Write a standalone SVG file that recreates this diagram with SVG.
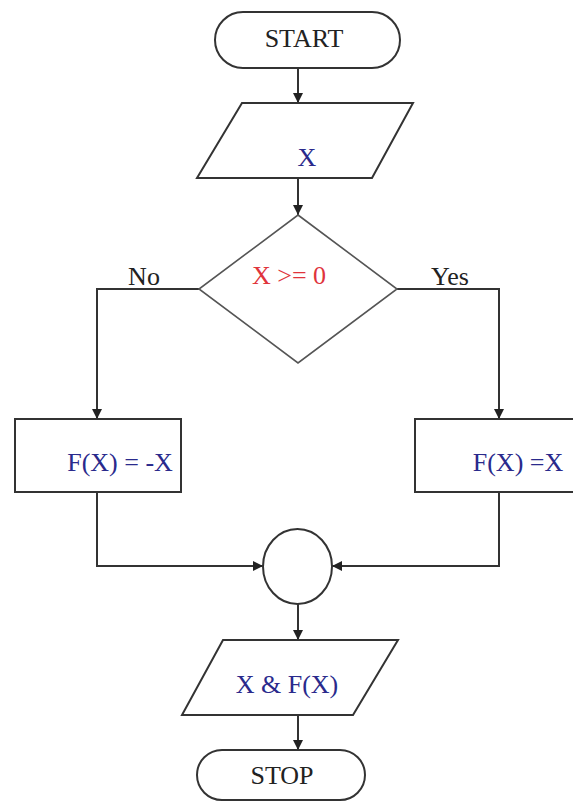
<svg xmlns="http://www.w3.org/2000/svg" width="573" height="803" viewBox="0 0 573 803">
<style>
.shape{fill:#fff;stroke:#333;stroke-width:2}
.dia{fill:#fff;stroke:#555;stroke-width:1.6}
.conn{fill:none;stroke:#333;stroke-width:2}
text{font-family:"Liberation Serif","Times New Roman",serif;font-size:26px;text-anchor:middle}
.k{fill:#222}
.b{fill:#2a2a8c}
.r{fill:#e0343c}
</style>
<defs>
<marker id="ah" markerUnits="userSpaceOnUse" markerWidth="10" markerHeight="10" refX="10" refY="5" orient="auto">
<path d="M0,0 L10,5 L0,10 z" fill="#222"/>
</marker>
</defs>
<rect width="573" height="803" fill="#fff"/>
<g id="connectors">
<path class="conn" d="M298,68 V103" marker-end="url(#ah)"/>
<path class="conn" d="M298,178 V215" marker-end="url(#ah)"/>
<path class="conn" d="M199,289 H97 V419" marker-end="url(#ah)"/>
<path class="conn" d="M397,289 H499 V419" marker-end="url(#ah)"/>
<path class="conn" d="M97,492 V566 H263" marker-end="url(#ah)"/>
<path class="conn" d="M499,492 V566 H332" marker-end="url(#ah)"/>
<path class="conn" d="M298,604 V640" marker-end="url(#ah)"/>
<path class="conn" d="M298,715 V750" marker-end="url(#ah)"/>
<text class="k" x="144" y="285" font-size="25">No</text>
<text class="k" x="450" y="285" font-size="25">Yes</text>
</g>
<g id="start">
<rect class="shape" x="215" y="12" width="185" height="56" rx="28"/>
<text class="k" x="304" y="47" font-size="27">START</text>
</g>
<g id="input">
<polygon class="shape" points="242,103 413,103 372,178 197,178"/>
<text class="b" x="307" y="166">X</text>
</g>
<g id="decision">
<polygon class="dia" points="298,215 397,289 298,363 199,289"/>
<text class="r" x="289" y="284">X &gt;= 0</text>
</g>
<g id="neg">
<rect class="shape" x="15" y="419" width="166" height="73"/>
<text class="b" x="120" y="471">F(X) = -X</text>
</g>
<g id="pos">
<rect class="shape" x="415" y="419" width="170" height="73"/>
<text class="b" x="518" y="471">F(X) =X</text>
</g>
<g id="join">
<ellipse class="shape" cx="297.5" cy="566.5" rx="34.5" ry="37.5"/>
</g>
<g id="output">
<polygon class="shape" points="223,640 398,640 353,715 182,715"/>
<text class="b" x="287" y="693">X &amp; F(X)</text>
</g>
<g id="stop">
<rect class="shape" x="197" y="750" width="168" height="50" rx="25"/>
<text class="k" x="282" y="784">STOP</text>
</g>
</svg>
